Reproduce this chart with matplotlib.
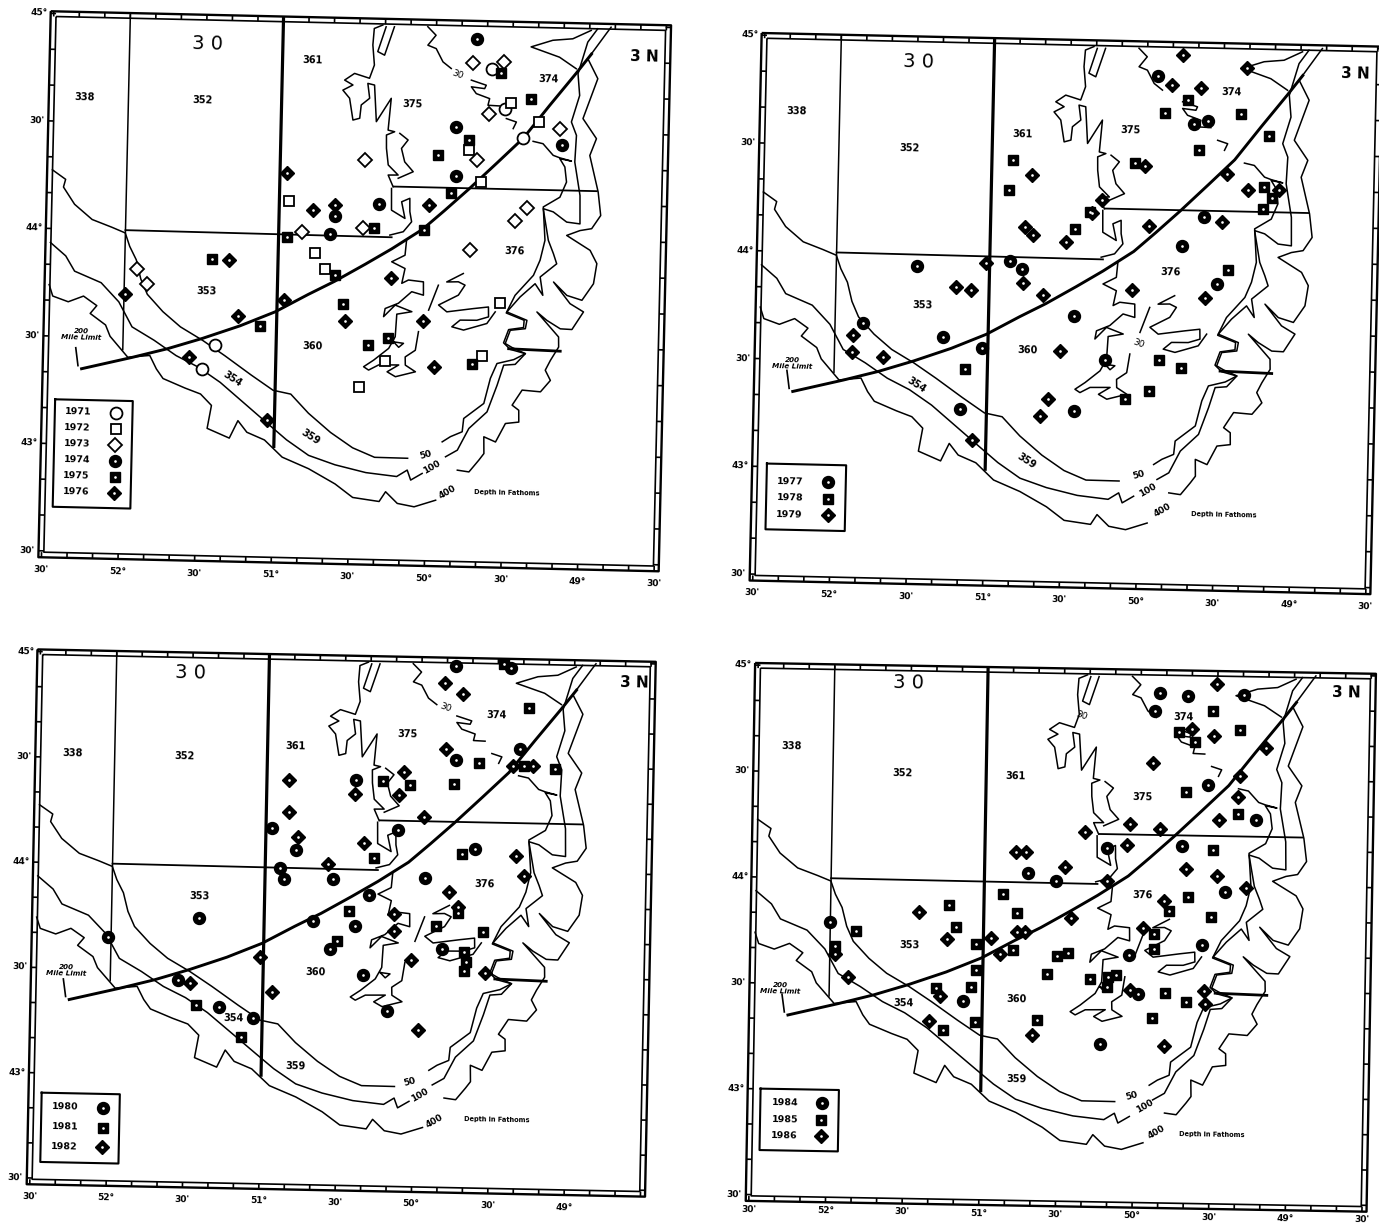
import matplotlib
matplotlib.use("Agg")
import matplotlib.pyplot as plt
from matplotlib.transforms import Affine2D

W, H = 1379, 1225

# ---------- shared base map (lon, lat) ----------
C50_WEST = [(52.486,44.273),(52.398,44.230),(52.411,44.194),(52.336,44.115),(52.219,44.046),(52.089,44.012),(52.001,43.987),(51.970,43.925),(51.925,43.863),(51.893,43.775),(51.848,43.704),(51.744,43.625),(51.627,43.556),(51.481,43.496),(51.334,43.427),(51.159,43.340),(51.013,43.271),(50.897,43.255),(50.779,43.168),(50.632,43.081),(50.486,43.012),(50.341,42.970),(50.125,42.969)]
C50_EAST = [(49.902,43.049),(49.849,43.074),(49.773,43.098),(49.765,43.160),(49.636,43.232),(49.597,43.349),(49.556,43.419),(49.447,43.439),(49.372,43.468),(49.471,43.486),(49.516,43.516),(49.485,43.578),(49.388,43.589),(49.385,43.623),(49.503,43.655),(49.448,43.738),(49.331,43.833),(49.290,43.904),(49.261,43.997),(49.277,44.152),(49.170,44.199),(49.129,44.270),(49.142,44.340),(49.176,44.378),(49.100,44.368),(49.176,44.382),(49.220,44.393),(49.288,44.446),(49.353,44.456)]
C100_WEST = [(52.488,43.935),(52.386,43.874),(52.326,43.804),(52.151,43.753),(52.033,43.666),(51.943,43.551),(51.797,43.491),(51.651,43.422),(51.505,43.371),(51.359,43.302),(51.183,43.198),(51.036,43.111),(50.918,43.042),(50.772,42.972),(50.598,42.931),(50.396,42.898),(50.194,42.883),(50.126,42.914),(50.102,42.868),(50.028,42.900)]
C100_EAST = [(49.878,42.980),(49.802,43.012),(49.730,43.114),(49.614,43.193),(49.552,43.318),(49.512,43.412),(49.437,43.417),(49.372,43.468),(49.460,43.495),(49.505,43.513),(49.474,43.575),(49.376,43.584),(49.367,43.623),(49.499,43.660),(49.415,43.731),(49.319,43.794),(49.267,43.741),(49.287,43.826),(49.181,43.889),(49.204,43.936),(49.239,43.997),(49.277,44.144),(49.211,44.130),(49.122,44.084),(49.035,44.077),(49.039,44.209),(49.078,44.364),(49.071,44.488),(49.106,44.550),(49.056,44.674),(49.070,44.775),(49.011,44.923),(48.948,44.986)]
C400_WEST = [(52.490,43.739),(52.465,43.686),(52.363,43.661),(52.264,43.689),(52.176,43.646),(52.218,43.609),(52.116,43.557),(52.085,43.505),(51.966,43.409),(51.823,43.420),(51.778,43.358),(51.733,43.314),(51.588,43.272),(51.486,43.246),(51.413,43.194),(51.438,43.087),(51.292,43.044),(51.238,43.126),(51.178,43.073),(51.062,43.039),(50.944,42.961),(50.770,42.910),(50.595,42.842),(50.478,42.781),(50.305,42.765),(50.264,42.811),(50.186,42.758),(50.076,42.744),(49.936,42.777)]
C400_EAST = [(49.799,42.919),(49.723,42.912),(49.660,42.968),(49.628,42.999),(49.631,43.077),(49.554,43.054),(49.492,43.141),(49.405,43.149),(49.407,43.204),(49.451,43.227),(49.388,43.298),(49.268,43.292),(49.205,43.346),(49.240,43.393),(49.208,43.439),(49.156,43.502),(49.158,43.549),(49.303,43.663),(49.237,43.625),(49.148,43.587),(49.072,43.585),(48.999,43.668),(49.088,43.705),(49.199,43.804),(49.110,43.743),(49.011,43.722),(48.938,43.800),(48.919,43.894),(48.965,43.955),(49.120,44.022),(49.034,44.046),(48.958,44.056),(48.901,44.118),(48.921,44.227),(48.981,44.396),(48.940,44.475),(49.031,44.567),(48.940,44.754),(49.008,44.846),(48.892,44.964),(48.861,44.995)]
C30_A = [(50.057,44.978),(50.002,44.939),(50.054,44.892),(49.999,44.877),(49.953,44.816),(49.898,44.786)]
C30_B = [(49.765,44.734),(49.667,44.712),(49.677,44.696),(49.764,44.703),(49.731,44.672),(49.643,44.650),(49.653,44.619),(49.577,44.617)]
C30_C = [(49.531,44.559),(49.465,44.544),(49.485,44.513)]
TOP_WEDGE = [(48.990,44.978),(49.109,44.937),(49.239,44.928),(49.380,44.895),(49.193,44.850),(49.082,44.798)]
PENINSULA = [(50.351,44.981),(50.406,44.964),(50.413,44.887),(50.400,44.794),(50.430,44.732),(50.528,44.753),(50.592,44.721),(50.537,44.699),(50.602,44.674),(50.557,44.637),(50.532,44.536),(50.488,44.545),(50.480,44.607),(50.426,44.639),(50.440,44.708),(50.396,44.701),(50.379,44.531),(50.285,44.641),(50.301,44.493),(50.258,44.486),(50.311,44.470),(50.309,44.408),(50.295,44.331),(50.229,44.285),(50.294,44.284),(50.260,44.230)]
FINGER = [(50.329,44.973),(50.380,44.857),(50.335,44.841),(50.275,44.974)]
CHANNEL = [(50.224,44.479),(50.169,44.449),(50.211,44.409),(50.188,44.347),(50.131,44.302),(50.228,44.270)]
MID_SHORE = [(50.270,44.222),(50.267,44.121),(50.178,44.084),(50.202,44.161),(50.149,44.178),(50.147,44.116),(50.134,44.069),(50.187,44.022),(50.274,44.005)]
LOOP_A = [(50.164,43.984),(50.172,43.913),(50.258,43.881),(50.170,43.851),(50.189,43.782),(50.146,43.798),(50.048,43.791),(50.046,43.729),(50.123,43.744),(50.208,43.689),(50.294,43.663),(50.303,43.625),(50.229,43.680),(50.119,43.651),(50.217,43.638),(50.224,43.533),(50.265,43.478),(50.361,43.422),(50.426,43.390),(50.393,43.375),(50.328,43.400),(50.197,43.402),(50.272,43.369),(50.217,43.347),(50.087,43.372),(50.154,43.402),(50.156,43.440),(50.091,43.472),(50.073,43.559)]
SHORT_LINE = [(50.010,43.660),(49.950,43.777)]
LOOP_B = [(49.789,43.834),(49.896,43.793),(49.820,43.795),(49.776,43.780),(49.818,43.733),(49.946,43.685),(49.891,43.654),(49.718,43.672),(49.620,43.681),(49.618,43.635),(49.694,43.618),(49.803,43.617),(49.856,43.585),(49.779,43.571),(49.628,43.604),(49.575,43.659)]
ISLET = [(50.234,43.509),(50.169,43.503),(50.200,43.484),(50.234,43.509)]
THIN_LINES = [C50_WEST,C50_EAST,C100_WEST,C100_EAST,C400_WEST,C400_EAST,C30_A,C30_B,C30_C,TOP_WEDGE,PENINSULA,FINGER,CHANNEL,MID_SHORE,LOOP_A,SHORT_LINE,LOOP_B,ISLET]
LIMIT_200 = [(52.266,43.351),(51.938,43.409),(51.709,43.453),(51.481,43.505),(51.239,43.567),(51.011,43.636),(50.799,43.720),(50.628,43.784),(50.430,43.867),(50.260,43.941),(50.062,44.035),(49.922,44.124),(49.767,44.226),(49.585,44.352),(49.417,44.470),(49.250,44.625),(49.083,44.776),(48.985,44.868)]
ARROW_200 = [(52.307,43.448),(52.290,43.365)]
DIV_52 = [(52.0,45.0),(52.0,43.444)]
DIV_51 = [(51.0,45.0),(51.0,43.01)]
DIV_44 = [(52.0,44.0),(50.262,43.995)]
DIV_4415 = [(50.256,44.231),(48.93,44.231)]
BOLD_DASH = [(49.482,43.489),(49.145,43.483)]

# ---------- yearly sets ----------
Y1971 = [(49.629,44.787),(49.543,44.605),(49.417,44.470),(51.483,43.363),(51.399,43.475)]
Y1972 = [(49.500,44.634),(49.319,44.548),(49.773,44.411),(49.688,44.262),(50.935,44.154),(50.763,43.916),(50.694,43.842),(49.542,43.699),(49.653,43.452),(50.285,43.421),(50.453,43.294)]
Y1973 = [(49.755,44.812),(49.553,44.824),(49.645,44.577),(49.179,44.518),(49.715,44.362),(50.447,44.351),(49.382,44.147),(49.460,44.085),(50.450,44.036),(50.846,44.009),(49.749,43.945),(51.918,43.822),(51.849,43.754)]
Y1974 = [(49.735,44.925),(49.858,44.513),(49.165,44.442),(49.850,44.286),(50.349,44.148),(50.633,44.087),(50.665,44.003)]
Y1975 = [(49.571,44.770),(49.374,44.654),(49.770,44.456),(49.974,44.383),(49.882,44.205),(50.378,44.034),(50.053,44.033),(50.946,43.984),(51.428,43.874),(50.624,43.815),(50.567,43.678),(51.110,43.569),(50.274,43.528),(50.402,43.491),(49.718,43.415)]
Y1976 = [(50.957,44.281),(50.779,44.113),(50.636,44.140),(50.023,44.149),(51.322,43.872),(50.261,43.804),(51.991,43.705),(50.955,43.690),(51.255,43.611),(50.552,43.602),(50.042,43.610),(51.564,43.415),(49.968,43.397),(51.046,43.134)]
Y1977 = [(49.928,44.852),(49.595,44.649),(49.689,44.630),(49.748,44.066),(49.609,44.201),(49.514,43.892),(51.473,43.944),(50.790,43.940),(50.870,43.977),(51.820,43.677),(51.291,43.618),(50.440,43.728),(50.426,43.291),(51.037,43.571),(51.172,43.289),(50.233,43.529)]
Y1978 = [(49.727,44.743),(49.877,44.679),(49.381,44.685),(49.648,44.513),(49.198,44.583),(50.864,44.449),(50.883,44.309),(50.070,44.447),(49.221,44.348),(49.168,44.295),(49.223,44.243),(50.447,44.132),(49.443,43.957),(49.881,43.534),(49.736,43.500),(49.942,43.389),(50.098,43.351),(51.149,43.474),(50.355,44.213)]
Y1979 = [(49.771,44.950),(49.353,44.897),(49.838,44.809),(49.648,44.802),(50.004,44.432),(50.739,44.379),(49.467,44.404),(49.327,44.332),(49.126,44.335),(50.279,44.269),(49.966,44.153),(49.494,44.181),(50.777,44.135),(50.719,44.099),(50.503,44.072),(51.021,43.965),(50.783,43.878),(51.218,43.854),(51.117,43.839),(50.649,43.824),(50.066,43.857),(49.592,43.828),(51.884,43.621),(51.887,43.540),(51.681,43.522),(50.527,43.566),(50.600,43.343),(50.649,43.264),(51.089,43.146),(50.340,44.208)]
Y1980 = [(49.778,44.972),(49.417,44.968),(49.767,44.527),(49.350,44.582),(50.133,44.186),(50.960,44.184),(50.801,44.082),(49.631,44.104),(50.900,43.995),(50.876,43.945),(50.553,43.947),(49.954,43.960),(50.320,43.878),(51.427,43.751),(50.406,43.728),(50.677,43.745),(52.021,43.652),(51.555,43.453),(50.565,43.617),(49.830,43.628),(50.346,43.494),(51.287,43.330),(51.061,43.279),(50.183,43.325),(50.418,44.421)]
Y1981 = [(49.461,44.986),(49.297,44.781),(49.614,44.515),(49.117,44.490),(49.772,44.413),(50.066,44.400),(50.239,44.419),(49.712,44.077),(50.288,44.054),(50.445,43.799),(50.522,43.656),(49.567,43.710),(49.876,43.736),(49.670,43.568),(51.437,43.336),(51.139,43.188),(49.733,43.801),(49.686,43.613),(49.683,43.523),(49.319,44.501)]
Y1982 = [(49.847,44.890),(49.726,44.838),(49.834,44.578),(50.853,44.412),(50.850,44.261),(50.425,44.354),(50.105,44.462),(50.131,44.353),(50.356,44.121),(49.970,44.252),(50.788,44.145),(49.357,44.077),(49.306,43.979),(50.589,44.018),(49.793,43.899),(51.025,43.570),(50.940,43.407),(51.477,43.440),(49.544,43.515),(49.978,43.238),(49.262,44.506),(50.030,43.571),(50.151,43.786),(50.149,43.705),(49.734,43.828),(49.391,44.504)]
Y1984 = [(49.873,44.903),(49.692,44.891),(49.328,44.900),(49.905,44.814),(49.552,44.471),(49.238,44.310),(49.716,44.179),(49.429,43.967),(50.715,44.042),(50.536,44.005),(52.004,43.795),(49.574,43.715),(51.129,43.431),(50.046,43.661),(50.229,43.241),(49.983,43.480),(50.203,44.165)]
Y1985 = [(49.527,44.821),(49.352,44.735),(49.694,44.435),(49.353,44.335),(49.515,44.163),(49.672,43.941),(49.520,43.846),(50.878,43.940),(51.226,43.884),(51.180,43.781),(51.831,43.752),(51.967,43.682),(51.050,43.701),(50.782,43.853),(49.889,43.693),(50.301,43.548),(50.185,43.511),(49.811,43.484),(49.668,43.444),(49.894,43.367),(50.639,43.349),(51.046,43.334),(51.254,43.292),(49.745,44.717),(49.643,44.673),(51.302,43.489),(51.073,43.500),(51.047,43.581),(50.805,43.674),(50.186,43.556),(50.129,43.565),(50.582,43.568),(50.518,43.650),(50.447,43.665),(49.891,43.765),(49.793,43.873)]
Y1986 = [(49.507,44.949),(49.665,44.732),(49.521,44.701),(49.914,44.572),(49.344,44.515),(49.476,44.307),(50.054,44.282),(50.348,44.238),(49.861,44.258),(50.074,44.181),(49.685,44.072),(49.483,44.042),(49.295,43.990),(50.199,44.012),(50.473,44.072),(50.798,44.140),(50.733,44.140),(51.421,43.846),(51.237,43.723),(50.951,43.731),(50.779,43.763),(50.731,43.764),(50.429,43.830),(49.963,43.791),(49.829,43.918),(51.877,43.536),(51.278,43.453),(51.347,43.336),(50.671,43.276),(49.811,43.237),(49.554,43.499),(49.178,44.651),(49.547,43.437),(49.355,44.416),(50.891,43.655),(50.041,43.495),(51.966,43.643)]

# ---------- text positions per panel: text -> (lon, lat) ----------
AREAS_1 = {"338":(52.288,44.614),"352":(51.515,44.614),"361":(50.803,44.809),"375":(50.145,44.616),"374":(49.260,44.748),"376":(49.461,43.941),"353":(51.462,43.724),"360":(50.761,43.480),"354":(51.282,43.320),"359":(50.761,43.058)}
AREAS_2 = {"338":(52.281,44.653),"352":(51.539,44.489),"361":(50.802,44.565),"375":(50.103,44.596),"374":(49.447,44.782),"376":(49.817,43.942),"353":(51.430,43.764),"360":(50.742,43.567),"354":(51.461,43.394),"359":(50.733,43.052)}
AREAS_3 = {"338":(52.274,44.519),"352":(51.545,44.517),"361":(50.814,44.577),"375":(50.086,44.643),"374":(49.506,44.741),"376":(49.563,43.939),"353":(51.429,43.856),"360":(50.654,43.503),"354":(51.190,43.279),"359":(50.775,43.058)}
AREAS_4 = {"338":(52.272,44.620),"352":(51.544,44.502),"361":(50.808,44.498),"375":(49.980,44.409),"374":(49.719,44.789),"376":(49.968,43.948),"353":(51.479,43.690),"360":(50.780,43.446),"354":(51.510,43.414),"359":(50.768,43.068)}
NOTES_1 = {"30":(51.495,44.875),"3N":(48.640,44.859),"c30":(49.859,44.756),"50":(50.011,42.986),"100":(49.965,42.931),"400":(49.861,42.817),"depth":(49.473,42.819),"limit":(52.272,43.511)}
NOTES_2 = {"30":(51.494,44.892),"3N":(48.642,44.881),"c30":(50.020,43.608),"50":(50.000,43.000),"100":(49.937,42.931),"400":(49.839,42.836),"depth":(49.436,42.825),"limit":(52.275,43.480)}
NOTES_3 = {"30":(51.515,44.912),"3N":(48.608,44.909),"c30":(49.839,44.773),"50":(50.029,42.993),"100":(49.957,42.932),"400":(49.859,42.807),"depth":(49.449,42.823),"limit":(52.291,43.490)}
NOTES_4 = {"30":(51.519,44.930),"3N":(48.662,44.917),"c30":(50.384,44.789),"50":(50.014,42.996),"100":(49.926,42.948),"400":(49.851,42.830),"depth":(49.487,42.819),"limit":(52.318,43.477)}

YEARS_1 = ["1971","1972","1973","1974","1975","1976"]
YEARS_2 = ["1977","1978","1979"]
YEARS_3 = ["1980","1981","1982"]
YEARS_4 = ["1984","1985","1986"]
SETS_1 = [Y1971,Y1972,Y1973,Y1974,Y1975,Y1976]
SETS_2 = [Y1977,Y1978,Y1979]
SETS_3 = [Y1980,Y1981,Y1982]
SETS_4 = [Y1984,Y1985,Y1986]
LON_TICKS = [52.5,52.0,51.5,51.0,50.5,50.0,49.5,49.0,48.5]
LON_LABELS = ["30'","52°","30'","51°","30'","50°","30'","49°","30'"]
LAT_TICKS = [45.0,44.5,44.0,43.5,43.0,42.5]
LAT_LABELS = ["45°","30'","44°","30'","43°","30'"]

# panel geometry: centre (px), px per degree, clockwise tilt, legend box, legend columns/rows
PANELS = [
 dict(c=(354.0,289.1),s=(153.2,215.0),rot=1.3,years=YEARS_1,sets=SETS_1,shapes="osDosD",open=3,areas=AREAS_1,notes=NOTES_1,
      box=(52.434,43.206,51.927,42.706),tx=52.284,mx=52.034,rows=[43.149,43.075,43.002,42.927,42.852,42.776],last=True,tick_gap=0.058),
 dict(c=(1065.3,311.4),s=(153.3,215.6),rot=1.26,years=YEARS_2,sets=SETS_2,shapes="osD",open=0,areas=AREAS_2,notes=NOTES_2,
      box=(52.424,43.014,51.907,42.709),tx=52.27,mx=52.02,rows=[42.933,42.857,42.780],last=True,tick_gap=0.058),
 dict(c=(340.5,920.9),s=(152.7,210.6),rot=1.15,years=YEARS_3,sets=SETS_3,shapes="osD",open=0,areas=AREAS_3,notes=NOTES_3,
      box=(52.434,42.906,51.922,42.577),tx=52.277,mx=52.03,rows=[42.840,42.746,42.652],last=False,tick_gap=0.058),
 dict(c=(1060.1,935.2),s=(153.3,211.8),rot=1.0,years=YEARS_4,sets=SETS_4,shapes="osD",open=0,areas=AREAS_4,notes=NOTES_4,
      box=(52.436,43.001,51.925,42.711),tx=52.275,mx=52.037,rows=[42.937,42.858,42.781],last=True,tick_gap=0.04),
]
LEFT, RIGHT, TOP, BOTTOM = 52.52, 48.47, 45.01, 42.47
MS = {"o":8.6,"s":7.8,"D":7.0}
BOLD = dict(fontweight="bold", family="DejaVu Sans", color="black")

fig = plt.figure(figsize=(W/100, H/100), dpi=100, facecolor="white")


def xy(pts):
    return [p[0] for p in pts], [p[1] for p in pts]


def marker(ax, t, pts, shape, is_open, z=6):
    xs, ys = xy(pts)
    if is_open:
        ax.plot(xs, ys, ls="", marker=shape, ms=MS[shape], mfc="white", mec="black", mew=1.3,
                transform=t, clip_on=False, zorder=z)
    else:
        ax.plot(xs, ys, ls="", marker=shape, ms=MS[shape], mfc="black", mec="black", mew=1.0,
                transform=t, clip_on=False, zorder=z)
        ax.plot(xs, ys, ls="", marker="o", ms=1.9, mfc="white", mec="none",
                transform=t, clip_on=False, zorder=z+0.1)


def draw_frame(ax, t):
    il, ir, it, ib = LEFT-0.035, RIGHT+0.035, TOP-0.024, BOTTOM+0.024
    kw = dict(color="black", transform=t, clip_on=False, solid_capstyle="butt")
    ax.plot([LEFT, RIGHT, RIGHT, LEFT, LEFT], [TOP, TOP, BOTTOM, BOTTOM, TOP], lw=1.7, **kw)
    ax.plot([il, ir, ir, il, il], [it, it, ib, ib, it], lw=1.2, **kw)
    lon = 52.5
    while lon >= 48.49:
        ax.plot([lon, lon], [TOP, it], lw=1.2, **kw)
        ax.plot([lon, lon], [BOTTOM, ib], lw=1.2, **kw)
        lon -= 1/6
    lat = 45.0
    while lat >= 42.49:
        ax.plot([LEFT, il], [lat, lat], lw=1.2, **kw)
        ax.plot([RIGHT, ir], [lat, lat], lw=1.2, **kw)
        lat -= 1/6


for p in PANELS:
    cx, cy = p["c"]
    sx, sy = p["s"]
    ax = fig.add_axes([(cx-2*sx)/W, (H-cy-1.25*sy)/H, 4*sx/W, 2.5*sy/H])
    ax.set_xlim(52.5, 48.5)
    ax.set_ylim(42.5, 45.0)
    ax.set_axis_off()
    t = ax.transData + Affine2D().rotate_deg_around(cx, H-cy, -p["rot"])
    rot = -p["rot"]

    draw_frame(ax, t)
    lw_kw = dict(color="black", transform=t, clip_on=False, solid_joinstyle="round")
    for line in THIN_LINES:
        ax.plot(*xy(line), lw=1.1, zorder=2, **lw_kw)
    ax.plot(*xy(DIV_52), lw=1.1, zorder=2, **lw_kw)
    ax.plot(*xy(DIV_51), lw=2.3, zorder=2, **lw_kw)
    ax.plot(*xy(DIV_44), lw=1.3, zorder=2, **lw_kw)
    ax.plot(*xy(DIV_4415), lw=1.3, zorder=2, **lw_kw)
    ax.plot(*xy(LIMIT_200), lw=2.1, zorder=3, **lw_kw)
    ax.plot(*xy(ARROW_200), lw=1.2, zorder=3, **lw_kw)
    ax.plot(*xy(BOLD_DASH), lw=2.0, zorder=3, **lw_kw)

    # tick labels
    for lon, lab in zip(LON_TICKS, LON_LABELS):
        if lon == 48.5 and not p["last"]:
            continue
        ax.text(lon, BOTTOM-p["tick_gap"], lab, ha="center", va="center", fontsize=6.5, rotation=rot,
                transform=t, clip_on=False, **BOLD)
    for lat, lab in zip(LAT_TICKS, LAT_LABELS):
        ax.text(LEFT+0.075, lat, lab, ha="center", va="center", fontsize=6.5, rotation=rot,
                transform=t, clip_on=False, **BOLD)

    # area numbers
    for name, (lon, lat) in p["areas"].items():
        r = rot
        if name == "354" or name == "359":
            r = -33 if p is PANELS[0] or p is PANELS[1] else rot
        ax.text(lon, lat, name, ha="center", va="center", fontsize=7, rotation=r, transform=t, **BOLD)

    n = p["notes"]
    ax.text(*n["30"], "3 0", ha="center", va="center", fontsize=14, rotation=rot, transform=t,
            family="DejaVu Sans", color="black")
    ax.text(*n["3N"], "3 N", ha="center", va="center", fontsize=11, rotation=rot, transform=t, **BOLD)
    ax.text(*n["c30"], "30", ha="center", va="center", fontsize=6.5, rotation=-20, transform=t,
            family="DejaVu Sans", color="black")
    ax.text(*n["50"], "50", ha="center", va="center", fontsize=6.5, rotation=15, transform=t, **BOLD)
    ax.text(*n["100"], "100", ha="center", va="center", fontsize=6.5, rotation=30, transform=t, **BOLD)
    ax.text(*n["400"], "400", ha="center", va="center", fontsize=6.5, rotation=30, transform=t, **BOLD)
    ax.text(*n["depth"], "Depth in Fathoms", ha="center", va="center", fontsize=4.8, rotation=rot, transform=t, **BOLD)
    ax.text(*n["limit"], "200\nMile Limit", ha="center", va="center", fontsize=5.2, rotation=rot, transform=t,
            linespacing=1.0, style="italic", **BOLD)

    # yearly marks
    for i, (pts, sh) in enumerate(zip(p["sets"], p["shapes"])):
        marker(ax, t, pts, sh, i < p["open"])

    # legend
    x0, y0, x1, y1 = p["box"]
    ax.plot([x0, x1, x1, x0, x0], [y0, y0, y1, y1, y0], lw=1.5, zorder=8, **lw_kw)
    for yr, sh, row, i in zip(p["years"], p["shapes"], p["rows"], range(6)):
        ax.text(p["tx"], row, yr, ha="center", va="center", fontsize=6.8, rotation=rot, transform=t, **BOLD)
        marker(ax, t, [(p["mx"], row)], sh, i < p["open"], z=9)

fig.savefig("out.png", dpi=100, facecolor="white")
